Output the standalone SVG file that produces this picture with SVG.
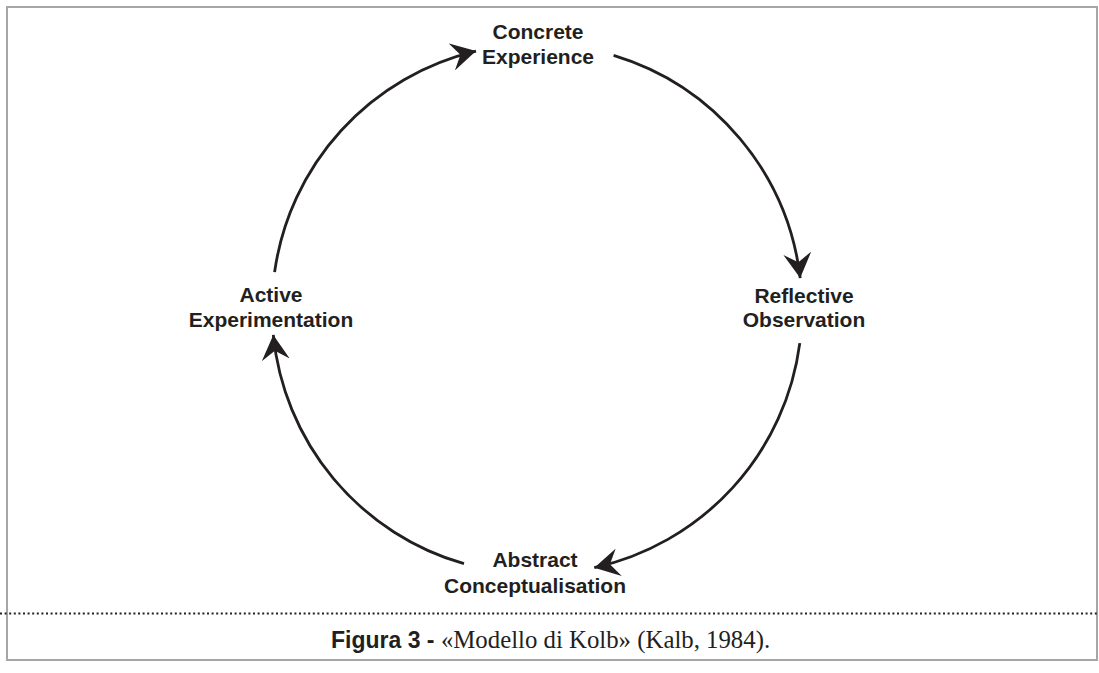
<svg xmlns="http://www.w3.org/2000/svg" width="1099" height="673" viewBox="0 0 1099 673">
  <style>
    .frame { fill: none; stroke: #a6a6a6; stroke-width: 2; }
    .sep { stroke: #231f20; stroke-width: 2; stroke-dasharray: 2 2.6; }
    .cycle { fill: none; stroke: #231f20; stroke-width: 2.8; marker-end: url(#head); }
    .label { font-family: "Liberation Sans", Arial, sans-serif; font-weight: bold; font-size: 21px; fill: #231f20; text-anchor: middle; }
    .cap-b { font-family: "Liberation Sans", Arial, sans-serif; font-weight: bold; font-size: 23px; fill: #231f20; }
    .cap-r { font-family: "Liberation Serif", "Times New Roman", serif; font-size: 24.8px; fill: #231f20; }
  </style>
  <defs>
    <marker id="head" markerUnits="userSpaceOnUse" viewBox="0 0 26 28" markerWidth="26" markerHeight="28" refX="25" refY="14" orient="auto">
      <path d="M25,14 L0,0 L9,14 L0,28 Z" fill="#231f20"/>
    </marker>
  </defs>

  <rect width="1099" height="673" fill="#ffffff"/>
  <rect class="frame" x="7" y="7" width="1090" height="653"/>
  <line class="sep" x1="0" y1="613.5" x2="1097" y2="613.5"/>

  <!-- cycle arcs: centre (537,309), radius 265 -->
  <g id="connectors">
    <path class="cycle" d="M274.6,272.1 A265,265 0 0 1 476.0,51.1"/>
    <path class="cycle" d="M613.6,55.3 A265,265 0 0 1 800.2,278.1"/>
    <path class="cycle" d="M799.8,343.1 A265,265 0 0 1 594.3,567.7"/>
    <path class="cycle" d="M464.0,563.7 A265,265 0 0 1 273.3,334.9"/>
  </g>

  <g id="concrete-experience">
    <text class="label" x="538" y="39">Concrete</text>
    <text class="label" x="538" y="64">Experience</text>
  </g>
  <g id="reflective-observation">
    <text class="label" x="804" y="303">Reflective</text>
    <text class="label" x="804" y="327">Observation</text>
  </g>
  <g id="abstract-conceptualisation">
    <text class="label" x="535" y="567">Abstract</text>
    <text class="label" x="535" y="593">Conceptualisation</text>
  </g>
  <g id="active-experimentation">
    <text class="label" x="271" y="302">Active</text>
    <text class="label" x="271" y="327">Experimentation</text>
  </g>

  <g id="caption">
    <text x="331" y="648"><tspan class="cap-b">Figura 3 - </tspan><tspan class="cap-r">«Modello di Kolb» (Kalb, 1984).</tspan></text>
  </g>
</svg>
